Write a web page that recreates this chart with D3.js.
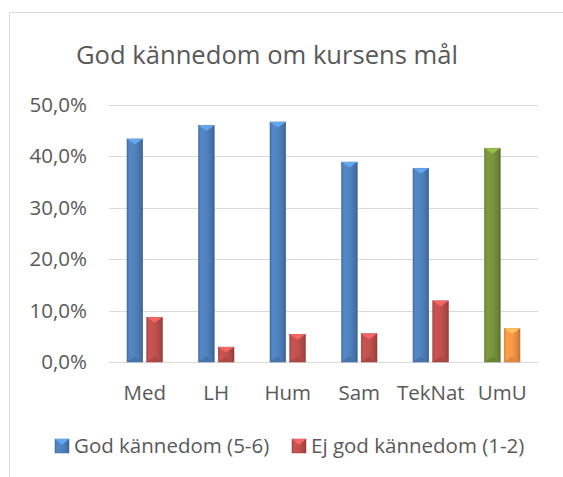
<!DOCTYPE html>
<html>
<head>
<meta charset="utf-8">
<script src="https://cdn.jsdelivr.net/npm/d3@7"></script>
<style>
  body { margin: 0; background: #fff; }
  text { font-family: "Open Sans", "Noto Sans", sans-serif; fill: #595959; }
</style>
</head>
<body>
<svg id="chart" width="563" height="477"></svg>
<script>
// chart data
var categories = ["Med", "LH", "Hum", "Sam", "TekNat", "UmU"]
var seriesNames = ["God kännedom (5-6)", "Ej god kännedom (1-2)"]
var godValues = [43.4, 46.0, 46.7, 38.9, 37.7, 41.6]
var ejGodValues = [8.7, 2.9, 5.4, 5.5, 11.9, 6.5]
var yTicks = [0, 10, 20, 30, 40, 50]

// colours, last category (UmU) is drawn in its own colours
var seriesColors = ["#4f81bd", "#c0504d"]
var umuColors = ["#77933c", "#f79646"]

var svg = d3.select("#chart")

// outer chart frame (cut off at right and bottom)
svg.append("path")
    .attr("d", "M9.5,600 L9.5,12.5 L600,12.5")
    .attr("fill", "none")
    .attr("stroke", "#d9d9d9")

svg.append("text")
    .attr("x", 267)
    .attr("y", 64)
    .attr("text-anchor", "middle")
    .style("font-size", "25.6px")
    .text("God kännedom om kursens mål")

var y = d3.scaleLinear().domain([0, 50]).range([362, 105])

var x0 = d3.scaleBand()
    .domain(categories)
    .range([109, 538])
    .paddingInner(0.503)
    .paddingOuter(0.2515)

var x1 = d3.scaleBand()
    .domain([0, 1])
    .range([0, x0.bandwidth()])
    .paddingInner(0.2)

// gridlines
svg.append("g").selectAll("line")
    .data(yTicks)
    .join("line")
    .attr("x1", 109)
    .attr("x2", 538)
    .attr("y1", function(d) { return Math.round(y(d)) + 0.5 })
    .attr("y2", function(d) { return Math.round(y(d)) + 0.5 })
    .attr("stroke", "#d9d9d9")
    .attr("stroke-width", 1)

// y axis labels
var yAxis = d3.axisLeft(y)
    .tickValues(yTicks)
    .tickSize(0)
    .tickPadding(0)
    .tickFormat(function(d) { return d.toFixed(1).replace(".", ",") + "%" })

var yg = svg.append("g")
    .attr("transform", "translate(87,0)")
    .call(yAxis)
yg.select(".domain").remove()
yg.selectAll("text").style("font-size", "20.5px").attr("fill", "#595959")

// x axis labels
var xAxis = d3.axisBottom(x0).tickSize(0).tickPadding(0)
var xg = svg.append("g")
    .attr("transform", "translate(0,400)")
    .call(xAxis)
xg.select(".domain").remove()
xg.selectAll("text").style("font-size", "20.5px").attr("fill", "#595959").attr("dy", "0")

// bevel gradients for each colour
var defs = svg.append("defs")
var allColors = seriesColors.concat(umuColors)
allColors.forEach(function(c, i) {
    var g = defs.append("linearGradient")
        .attr("id", "grad" + i)
        .attr("x1", "0").attr("x2", "1").attr("y1", "0").attr("y2", "0")
    var base = d3.color(c)
    g.append("stop").attr("offset", "0").attr("stop-color", base.darker(0.4))
    g.append("stop").attr("offset", "0.15").attr("stop-color", base.brighter(0.15))
    g.append("stop").attr("offset", "0.55").attr("stop-color", base)
    g.append("stop").attr("offset", "0.85").attr("stop-color", base.darker(0.35))
    g.append("stop").attr("offset", "1").attr("stop-color", base.darker(0.8))
})

function colorIndex(cat, s) {
    return cat === "UmU" ? 2 + s : s
}

var bars = []
categories.forEach(function(cat, i) {
    bars.push({cat: cat, s: 0, v: godValues[i]})
    bars.push({cat: cat, s: 1, v: ejGodValues[i]})
})

var bg = svg.append("g")
bg.selectAll("rect")
    .data(bars)
    .join("rect")
    .attr("x", function(d) { return x0(d.cat) + x1(d.s) })
    .attr("y", function(d) { return y(d.v) })
    .attr("width", x1.bandwidth())
    .attr("height", function(d) { return y(0) - y(d.v) })
    .attr("fill", function(d) { return "url(#grad" + colorIndex(d.cat, d.s) + ")" })
    .attr("stroke", function(d) { return d3.color(allColors[colorIndex(d.cat, d.s)]).darker(0.6) })
    .attr("stroke-width", 0.5)

// top highlight triangle
bg.selectAll("path.top")
    .data(bars)
    .join("path")
    .attr("class", "top")
    .attr("d", function(d) {
        var bx = x0(d.cat) + x1(d.s), w = x1.bandwidth(), by = y(d.v)
        var t = Math.min(w / 2, (y(0) - y(d.v)) / 2) * 0.7
        return "M" + bx + "," + by + "L" + (bx + w) + "," + by + "L" + (bx + w / 2) + "," + (by + t) + "Z"
    })
    .attr("fill", function(d) { return d3.color(allColors[colorIndex(d.cat, d.s)]).brighter(0.7) })

// bottom shade triangle
bg.selectAll("path.bot")
    .data(bars)
    .join("path")
    .attr("class", "bot")
    .attr("d", function(d) {
        var bx = x0(d.cat) + x1(d.s), w = x1.bandwidth(), by = y(0)
        var t = Math.min(w / 2, (y(0) - y(d.v)) / 2) * 0.7
        return "M" + bx + "," + by + "L" + (bx + w) + "," + by + "L" + (bx + w / 2) + "," + (by - t) + "Z"
    })
    .attr("fill", function(d) { return d3.color(allColors[colorIndex(d.cat, d.s)]).darker(0.3) })

// legend
var legendX = [55, 292]
var lg = svg.append("g")
seriesNames.forEach(function(name, i) {
    var c = d3.color(seriesColors[i])
    lg.append("rect")
        .attr("x", legendX[i])
        .attr("y", 439)
        .attr("width", 14)
        .attr("height", 14)
        .attr("fill", "url(#grad" + i + ")")
        .attr("stroke", c.darker(0.6))
        .attr("stroke-width", 0.5)
    lg.append("path")
        .attr("d", "M" + legendX[i] + ",439L" + (legendX[i] + 14) + ",439L" + (legendX[i] + 7) + ",445Z")
        .attr("fill", c.brighter(0.7))
    lg.append("text")
        .attr("x", legendX[i] + 19)
        .attr("y", 453)
        .style("font-size", "20.5px")
        .text(name)
})
</script>
</body>
</html>
